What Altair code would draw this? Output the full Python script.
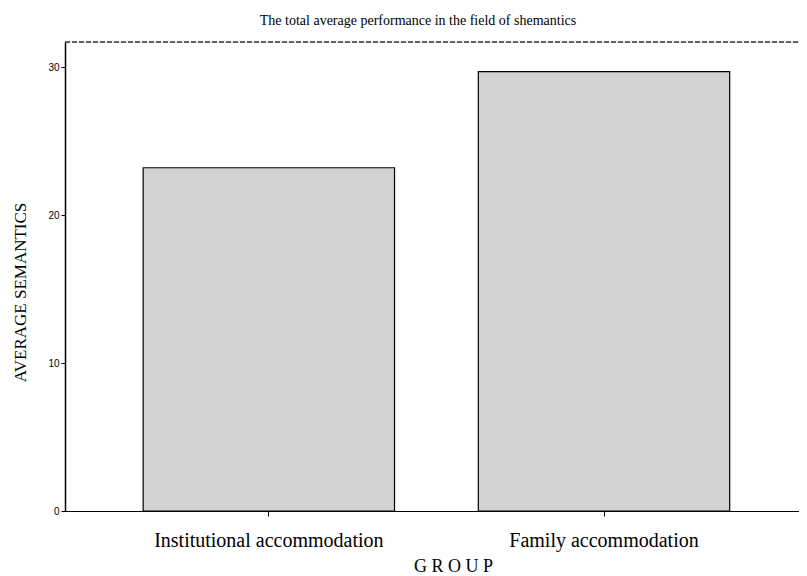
import altair as alt
import pandas as pd

groups = ["Institutional accommodation", "Family accommodation"]
means = [23.2, 29.7]

df = pd.DataFrame({"group": groups, "value": means})

W, H = 734, 469
serif = "Liberation Serif"

bars = alt.Chart(df).mark_bar(
    fill="#d2d2d2", stroke="#000000", strokeWidth=1.2
).encode(
    x=alt.X(
        "group:N",
        sort=groups,
        scale=alt.Scale(paddingInner=0.25, paddingOuter=0.22, align=0.53),
        axis=alt.Axis(
            title="G R O U P",
            labelAngle=0,
            labelFont=serif,
            labelFontSize=20,
            labelLimit=500,
            labelColor="#000000",
            labelPadding=14,
            tickSize=5,
            tickColor="#000000",
            domainColor="#000000",
            domainWidth=1.2,
            titleFont=serif,
            titleFontSize=18,
            titleFontWeight="normal",
            titleColor="#000000",
            titleX=388,
            titleY=55,
            titleBaseline="middle",
            titleAlign="center",
        ),
    ),
    y=alt.Y(
        "value:Q",
        scale=alt.Scale(domain=[0, 31.7], nice=False),
        axis=alt.Axis(
            title="AVERAGE SEMANTICS",
            values=[0, 10, 20, 30],
            grid=False,
            labelFont="Liberation Sans",
            labelFontSize=10,
            labelColor="#000000",
            labelPadding=2,
            tickSize=4,
            tickColor="#000000",
            domainColor="#000000",
            domainWidth=1.5,
            titleFont=serif,
            titleFontSize=17,
            titleFontWeight="normal",
            titleColor="#000000",
            titleX=-45,
            titleY=250,
            titleAngle=-90,
            titleAlign="center",
            titleBaseline="middle",
        ),
    ),
)

top_line = alt.Chart(df).mark_rule(
    color="#333333", strokeWidth=1, strokeDash=[5, 2]
).encode(
    x=alt.value(0), x2=alt.value(W), y=alt.value(0)
)

chart = alt.layer(bars, top_line).properties(
    width=W,
    height=H,
    padding={"left": 57, "top": 34, "right": 0, "bottom": 72},
    autosize=alt.AutoSizeParams(type="none"),
    title=alt.TitleParams(
        "The total average performance in the field of shemantics",
        font=serif,
        fontSize=14,
        fontWeight="normal",
        color="#000000",
        anchor="middle",
        dx=-14,
        offset=14,
    ),
).configure_view(stroke=None).configure(background="#ffffff")

chart.save("out.html", embed_options={"renderer": "svg", "actions": False})
